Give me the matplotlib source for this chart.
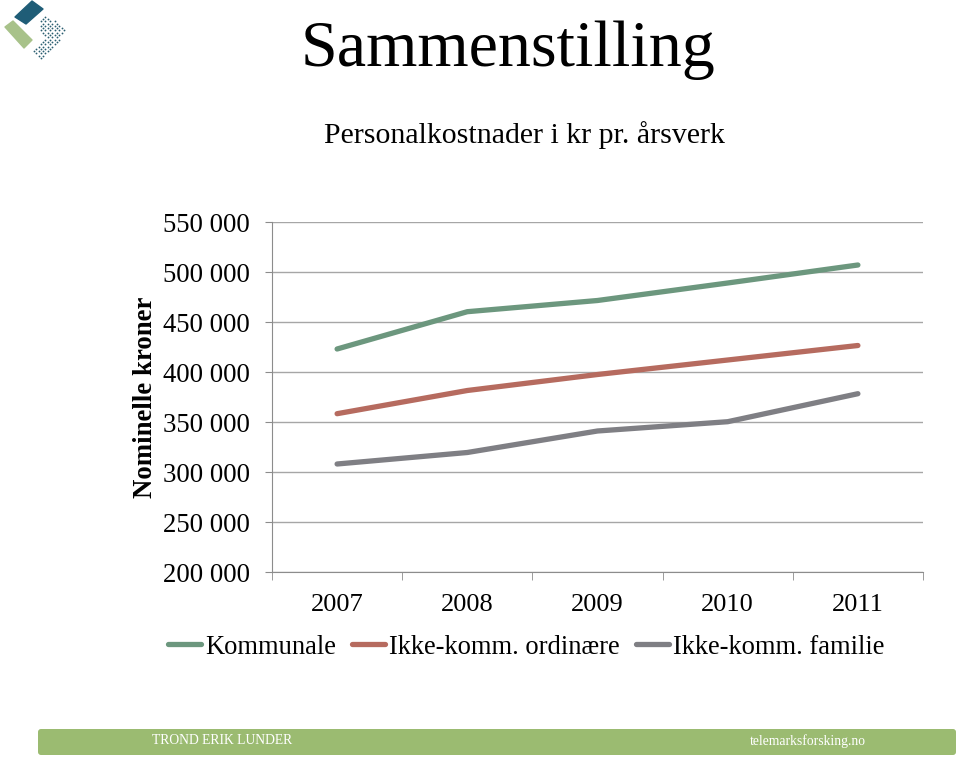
import matplotlib
matplotlib.use("Agg")
import matplotlib.pyplot as plt
import numpy as np
from matplotlib.patches import Polygon, FancyBboxPatch
from matplotlib.path import Path as MPath

years = ["2007", "2008", "2009", "2010", "2011"]
kommunale = [423000, 460300, 471500, 489000, 507000]
ordinaere = [358300, 381500, 397500, 412000, 426500]
familie = [308000, 319500, 341000, 350300, 378300]
series_names = ["Kommunale", "Ikke-komm. ordinære", "Ikke-komm. familie"]
series_colors = ["#6c977e", "#b66b5f", "#7f7f84"]
y_ticks = [200000, 250000, 300000, 350000, 400000, 450000, 500000, 550000]

plt.rcParams["font.family"] = ["Liberation Serif", "DejaVu Serif"]

W, H = 960, 759
fig = plt.figure(figsize=(W / 100, H / 100), dpi=100)
fig.patch.set_facecolor("white")


def fx(px):
    return px / W


def fy(py):
    return 1 - py / H


# titles
fig.text(fx(508), fy(50), "Sammenstilling", fontsize=47.5, ha="center", va="center")
fig.text(fx(524), fy(135), "Personalkostnader i kr pr. årsverk", fontsize=21.5,
         ha="center", va="center")

# main chart
ax = fig.add_axes([fx(272), fy(572), fx(923) - fx(272), fy(222) - fy(572)])
x = np.arange(len(years))
for vals, name, col in zip([kommunale, ordinaere, familie], series_names, series_colors):
    ax.plot(x, vals, color=col, lw=3.8, solid_capstyle="round", label=name)

ax.set_xlim(-0.5, len(years) - 0.5)
ax.set_ylim(200000, 550000)
ax.set_yticks(y_ticks)
ax.set_yticklabels([f"{v // 1000} 000" for v in y_ticks], fontsize=19.3)
ax.yaxis.grid(True, color="#a6a6a6", lw=1.0)
ax.set_axisbelow(True)

ax.set_xticks(x)
ax.set_xticklabels(years, fontsize=19)
ax.set_xticks(np.arange(-0.5, len(years)), minor=True)
ax.tick_params(axis="x", which="major", length=0, pad=16)
ax.tick_params(axis="x", which="minor", length=6, color="#8c8c8c", direction="out")
ax.tick_params(axis="y", length=5, color="#8c8c8c", pad=11)
for side in ["top", "right"]:
    ax.spines[side].set_visible(False)
for side in ["left", "bottom"]:
    ax.spines[side].set_color("#8c8c8c")

fig.text(fx(146), fy(397), "Nominelle kroner", fontsize=19.3, fontweight="bold",
         rotation=90, ha="center", va="center")

handles, labels = ax.get_legend_handles_labels()
fig.legend(handles, labels, loc="center", bbox_to_anchor=(fx(526), fy(647)),
           ncol=3, frameon=False, fontsize=19.1, handlelength=1.25,
           handletextpad=0.15, columnspacing=0.6, borderpad=0, borderaxespad=0)

# logo
lax = fig.add_axes([0, fy(70), fx(80), fy(0) - fy(70)])
lax.set_xlim(0, 80)
lax.set_ylim(70, 0)
lax.axis("off")
lax.add_patch(Polygon([(15, 17), (32, 1), (43, 9), (26, 24)], closed=True,
                      color="#1f5d77", joinstyle="round"))
lax.add_patch(Polygon([(5, 27), (13, 21), (32, 40), (24, 48)], closed=True,
                      color="#a8c28a", joinstyle="round"))
dot_region = MPath([(40, 22), (47, 14), (66, 32), (42, 60), (33, 52), (44, 38), (40, 34)])
for i in range(-20, 21):
    for j in range(-20, 21):
        px = 50 + (i - j) * 2.3
        py = 35 + (i + j) * 2.3
        if dot_region.contains_point((px, py)):
            lax.plot(px, py, "o", ms=1.3, color="#2a5f70", mec="none")

# footer
fax = fig.add_axes([0, 0, 1, 1], zorder=-1)
fax.set_xlim(0, W)
fax.set_ylim(H, 0)
fax.axis("off")
fax.add_patch(FancyBboxPatch((38, 729), 918, 26, boxstyle="round,pad=0,rounding_size=3",
                             color="#9bbb71", lw=0))
fig.text(fx(152), fy(741), "TROND ERIK LUNDER", fontsize=9.8, color="white",
         ha="left", va="center")
fig.text(fx(866), fy(741), "telemarksforsking.no", fontsize=9.8, color="white",
         ha="right", va="center")

fig.savefig("out.png", dpi=100)
